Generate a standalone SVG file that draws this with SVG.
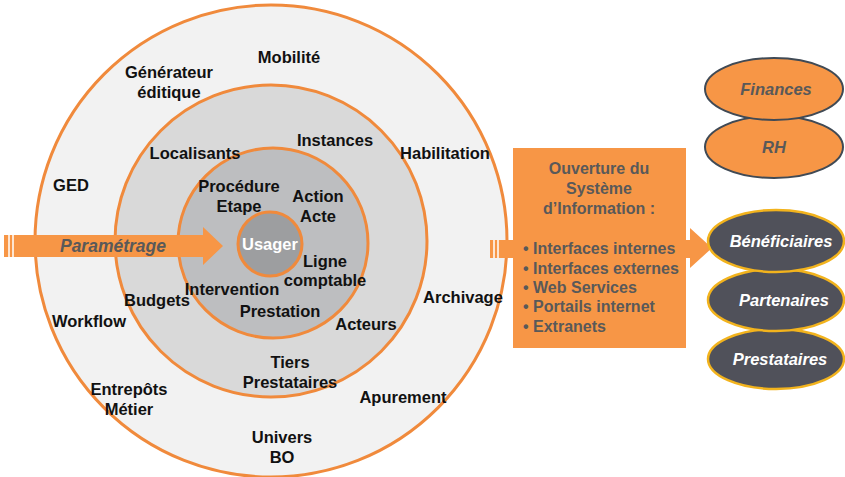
<svg xmlns="http://www.w3.org/2000/svg" width="845" height="477" viewBox="0 0 845 477">
<style>
.ring{stroke:#f08a3c;stroke-width:3}
.lbl{font-family:"Liberation Sans",Arial,sans-serif;font-weight:bold;font-size:16.5px;fill:#111;text-anchor:middle}
.box{font-family:"Liberation Sans",Arial,sans-serif;font-weight:bold;font-size:16px;fill:#595959}
.ell-o{fill:#f79646;stroke:#404a55;stroke-width:2}
.ell-d{fill:#50515a;stroke:#f2b31d;stroke-width:2.5}
.et{font-family:"Liberation Sans",Arial,sans-serif;font-weight:bold;font-style:italic;font-size:16.5px;text-anchor:middle}
</style>
<rect width="845" height="477" fill="#ffffff"/>
<g id="rings">
<circle class="ring" cx="271" cy="241" r="236" fill="#f2f2f2"/>
<circle class="ring" cx="271" cy="241" r="156" fill="#d9d9d9"/>
<circle class="ring" cx="273" cy="243" r="95" fill="#bdbec0"/>
</g>
<g id="connectors">
<polygon points="4,235 203,235 203,227 223,246 203,265 203,257 4,257" fill="#f79646"/>
<path d="M9,235V257M13,235V257" stroke="#ffffff" stroke-width="1.5"/>
<text x="113" y="252" class="et" fill="#595959" style="font-size:17.5px">Paramétrage</text>
<polygon points="490,240 690,240 690,228 712,248 690,268 690,258 490,258" fill="#f79646"/>
<path d="M494,240V258M498,240V258" stroke="#ffffff" stroke-width="1.5"/>
</g>
<g id="usager">
<circle class="ring" cx="270" cy="244" r="32" fill="#9d9ea0"/>
<text x="270" y="250" class="lbl" style="fill:#ffffff">Usager</text>
</g>
<g id="labels">
<text x="289" y="63" class="lbl">Mobilité</text>
<text x="169" y="78" class="lbl">Générateur</text>
<text x="169" y="98" class="lbl">éditique</text>
<text x="71" y="191" class="lbl">GED</text>
<text x="445" y="159" class="lbl">Habilitation</text>
<text x="195" y="159" class="lbl">Localisants</text>
<text x="335" y="146" class="lbl">Instances</text>
<text x="239" y="192" class="lbl">Procédure</text>
<text x="239" y="212" class="lbl">Etape</text>
<text x="318" y="202" class="lbl">Action</text>
<text x="318" y="222" class="lbl">Acte</text>
<text x="325" y="267" class="lbl">Ligne</text>
<text x="325" y="286" class="lbl">comptable</text>
<text x="232" y="295" class="lbl">Intervention</text>
<text x="157" y="306" class="lbl">Budgets</text>
<text x="280" y="317" class="lbl">Prestation</text>
<text x="366" y="330" class="lbl">Acteurs</text>
<text x="463" y="303" class="lbl">Archivage</text>
<text x="89" y="327" class="lbl">Workflow</text>
<text x="290" y="368" class="lbl">Tiers</text>
<text x="290" y="388" class="lbl">Prestataires</text>
<text x="129" y="395" class="lbl">Entrepôts</text>
<text x="129" y="415" class="lbl">Métier</text>
<text x="403" y="403" class="lbl">Apurement</text>
<text x="282" y="443" class="lbl">Univers</text>
<text x="282" y="463" class="lbl">BO</text>
</g>
<g id="ouverture">
<rect x="513" y="148" width="173" height="200" fill="#f79646"/>
<text class="box" text-anchor="middle" x="599" y="174">Ouverture du</text>
<text class="box" text-anchor="middle" x="599" y="194">Système</text>
<text class="box" text-anchor="middle" x="599" y="214">d’Information :</text>
<text class="box" x="523" y="254">• Interfaces internes</text>
<text class="box" x="523" y="274">• Interfaces externes</text>
<text class="box" x="523" y="293">• Web Services</text>
<text class="box" x="523" y="312">• Portails internet</text>
<text class="box" x="523" y="332">• Extranets</text>
</g>
<g id="rh">
<ellipse class="ell-o" cx="774" cy="147" rx="69" ry="31"/>
<text class="et" x="774" y="153" fill="#595959">RH</text>
</g>
<g id="finances">
<ellipse class="ell-o" cx="774" cy="89" rx="69" ry="31"/>
<text class="et" x="776" y="95" fill="#595959">Finances</text>
</g>
<g id="prestataires">
<ellipse class="ell-d" cx="776" cy="359" rx="68" ry="30"/>
<text class="et" x="780" y="365" fill="#ffffff">Prestataires</text>
</g>
<g id="partenaires">
<ellipse class="ell-d" cx="776" cy="300" rx="68" ry="31"/>
<text class="et" x="784" y="306" fill="#ffffff">Partenaires</text>
</g>
<g id="beneficiaires">
<ellipse class="ell-d" cx="776" cy="241" rx="68" ry="31"/>
<text class="et" x="781" y="247" fill="#ffffff">Bénéficiaires</text>
</g>
</svg>
